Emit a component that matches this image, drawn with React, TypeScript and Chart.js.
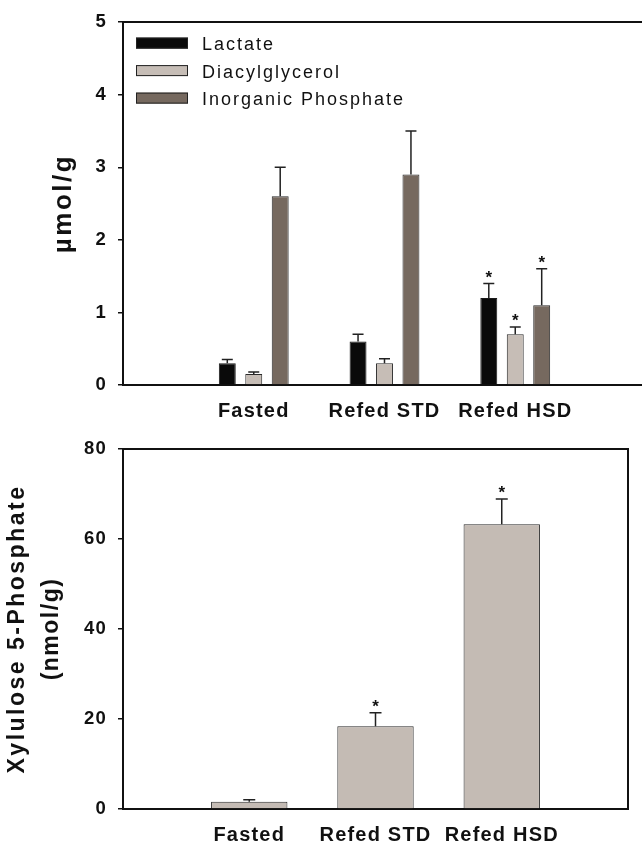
import React, { useEffect, useRef } from 'react';
import { Chart, registerables } from 'chart.js';

Chart.register(...registerables);

// ---------- data ----------
const categories = ['', 'Fasted', 'Refed STD', 'Refed HSD', ''];
const seriesNames = ['Lactate', 'Diacylglycerol', 'Inorganic Phosphate'];

const lactate = [null, 0.3, 0.6, 1.2, null];
const lactateErr = [null, 0.05, 0.1, 0.2, null];
const lactateSig = [false, false, false, true, false];

const diacylglycerol = [null, 0.15, 0.3, 0.7, null];
const diacylglycerolErr = [null, 0.03, 0.06, 0.1, null];
const diacylglycerolSig = [false, false, false, true, false];

const phosphate = [null, 2.6, 2.9, 1.1, null];
const phosphateErr = [null, 0.4, 0.6, 0.5, null];
const phosphateSig = [false, false, false, true, false];

const topTicks = [0, 1, 2, 3, 4, 5];
const topYLabel = 'µmol/g';

const xylulose = [null, 1.6, 18.4, 63.3, null];
const xyluloseErr = [null, 0.45, 3.0, 5.6, null];
const xyluloseSig = [false, false, true, true, false];
const bottomTicks = [0, 20, 40, 60, 80];
const bottomYLabel = ['Xylulose 5-Phosphate', '(nmol/g)'];

// ---------- styles ----------
const FAMILY = '"Liberation Sans", Arial, Helvetica, sans-serif';
const seriesColors = ['#0a0a0a', '#c6bdb6', '#76695f'];
const xyluloseColor = '#c4bbb4';
const INK = '#111111';

// ---------- plugins ----------
const spacingPlugin = (spacing: string) => ({
  id: 'letterSpacing',
  beforeDraw(chart: any) {
    (chart.ctx as any).letterSpacing = spacing;
  },
});

const errorBarPlugin = (capHalf: number) => ({
  id: 'errorBars',
  afterDatasetsDraw(chart: any) {
    const ctx = chart.ctx;
    const yScale = chart.scales.y;
    chart.data.datasets.forEach((ds: any, di: number) => {
      const meta = chart.getDatasetMeta(di);
      meta.data.forEach((bar: any, i: number) => {
        const v = ds.data[i];
        const e = ds.errors ? ds.errors[i] : null;
        if (v == null || e == null) return;
        const top = yScale.getPixelForValue(v + e);
        const x = bar.x;
        ctx.save();
        ctx.strokeStyle = '#222';
        ctx.lineWidth = 1.5;
        ctx.beginPath();
        ctx.moveTo(x, bar.y);
        ctx.lineTo(x, top);
        ctx.moveTo(x - capHalf, top);
        ctx.lineTo(x + capHalf, top);
        ctx.stroke();
        if (ds.sig && ds.sig[i]) {
          ctx.letterSpacing = '0px';
          ctx.font = `bold 17px ${FAMILY}`;
          ctx.textAlign = 'center';
          ctx.textBaseline = 'alphabetic';
          ctx.fillStyle = INK;
          ctx.fillText('*', x, top - 0.5);
        }
        ctx.restore();
      });
    });
  },
});

const framePlugin = (drawRight: boolean) => ({
  id: 'frame',
  afterDraw(chart: any) {
    const { ctx, chartArea } = chart;
    ctx.save();
    ctx.strokeStyle = INK;
    ctx.lineWidth = 2;
    ctx.beginPath();
    ctx.moveTo(chartArea.left - 1, chartArea.top);
    ctx.lineTo(chartArea.right, chartArea.top);
    if (drawRight) {
      ctx.moveTo(chartArea.right, chartArea.top - 1);
      ctx.lineTo(chartArea.right, chartArea.bottom + 1);
    }
    ctx.stroke();
    ctx.restore();
  },
});

type TitleLine = { text: string; x: number; size: number; ls: string };
const yTitlePlugin = (lines: TitleLine[]) => ({
  id: 'yTitle',
  afterDraw(chart: any) {
    const { ctx, chartArea } = chart;
    const cy = (chartArea.top + chartArea.bottom) / 2;
    lines.forEach((l) => {
      ctx.save();
      ctx.translate(l.x, cy);
      ctx.rotate(-Math.PI / 2);
      ctx.font = `bold ${l.size}px ${FAMILY}`;
      ctx.letterSpacing = l.ls;
      ctx.textAlign = 'center';
      ctx.textBaseline = 'middle';
      ctx.fillStyle = INK;
      ctx.fillText(l.text, 0, 0);
      ctx.restore();
    });
  },
});

const boxLegendPlugin = {
  id: 'boxLegend',
  afterDraw(chart: any) {
    const { ctx, chartArea } = chart;
    chart.data.datasets.forEach((ds: any, i: number) => {
      const cy = chartArea.top + 21 + i * 27.5;
      const bx = chartArea.left + 13;
      ctx.save();
      ctx.fillStyle = ds.backgroundColor;
      ctx.fillRect(bx, cy - 5.5, 52, 11);
      ctx.strokeStyle = '#222';
      ctx.lineWidth = 1;
      ctx.strokeRect(bx + 0.5, cy - 5, 51, 10);
      ctx.font = `18px ${FAMILY}`;
      ctx.letterSpacing = '2px';
      ctx.fillStyle = INK;
      ctx.textAlign = 'left';
      ctx.textBaseline = 'alphabetic';
      ctx.fillText(ds.label, bx + 66, cy + 7);
      ctx.restore();
    });
  },
};

// ---------- shared axis options ----------
const xAxis = (height: number) => ({
  offset: false,
  grid: { display: false, drawTicks: false },
  border: { display: true, color: INK, width: 2 },
  ticks: {
    autoSkip: false,
    maxRotation: 0,
    minRotation: 0,
    padding: 14,
    color: INK,
    font: { family: FAMILY, size: 20, weight: 'bold' },
  },
  afterFit: (s: any) => {
    s.height = height;
  },
});

const yAxis = (min: number, max: number, tickValues: number[]) => ({
  min,
  max,
  afterBuildTicks: (s: any) => {
    s.ticks = tickValues.map((v) => ({ value: v }));
  },
  grid: {
    drawOnChartArea: false,
    drawTicks: true,
    tickLength: 5,
    color: INK,
    lineWidth: 1.5,
  },
  border: { display: true, color: INK, width: 2 },
  ticks: {
    padding: 11,
    color: INK,
    font: { family: FAMILY, size: 18.5, weight: 'bold' },
  },
  afterFit: (s: any) => {
    s.width = 123;
  },
});

export default function App() {
  const topRef = useRef<HTMLCanvasElement | null>(null);
  const bottomRef = useRef<HTMLCanvasElement | null>(null);

  useEffect(() => {
    if (!topRef.current || !bottomRef.current) return;

    const top = new Chart(topRef.current, {
      type: 'bar',
      data: {
        labels: categories,
        datasets: [
          {
            label: seriesNames[0],
            data: lactate,
            errors: lactateErr,
            sig: lactateSig,
            backgroundColor: seriesColors[0],
            borderColor: '#1a1a1a',
            borderWidth: 1,
          },
          {
            label: seriesNames[1],
            data: diacylglycerol,
            errors: diacylglycerolErr,
            sig: diacylglycerolSig,
            backgroundColor: seriesColors[1],
            borderColor: '#2a2a2a',
            borderWidth: 1,
          },
          {
            label: seriesNames[2],
            data: phosphate,
            errors: phosphateErr,
            sig: phosphateSig,
            backgroundColor: seriesColors[2],
            borderColor: '#2a2a2a',
            borderWidth: 1,
          },
        ] as any,
      },
      options: {
        responsive: false,
        animation: false,
        events: [],
        layout: { padding: { left: 0, top: 19, right: 13, bottom: 0 } },
        datasets: { bar: { categoryPercentage: 0.607, barPercentage: 0.64 } },
        scales: {
          x: xAxis(40) as any,
          y: yAxis(0, 5, topTicks) as any,
        },
        plugins: { legend: { display: false }, tooltip: { enabled: false } },
      },
      plugins: [
        spacingPlugin('1.2px'),
        errorBarPlugin(5.5),
        framePlugin(false),
        yTitlePlugin([{ text: topYLabel, x: 64, size: 26, ls: '2.5px' }]),
        boxLegendPlugin,
      ],
    } as any);

    const bottom = new Chart(bottomRef.current, {
      type: 'bar',
      data: {
        labels: categories,
        datasets: [
          {
            label: 'Xylulose 5-Phosphate',
            data: xylulose,
            errors: xyluloseErr,
            sig: xyluloseSig,
            backgroundColor: xyluloseColor,
            borderColor: '#2a2a2a',
            borderWidth: 1,
          },
        ] as any,
      },
      options: {
        responsive: false,
        animation: false,
        events: [],
        layout: { padding: { left: 0, top: 24, right: 3, bottom: 0 } },
        datasets: { bar: { categoryPercentage: 0.605, barPercentage: 1 } },
        scales: {
          x: xAxis(37) as any,
          y: yAxis(0, 80, bottomTicks) as any,
        },
        plugins: { legend: { display: false }, tooltip: { enabled: false } },
      },
      plugins: [
        spacingPlugin('1.2px'),
        errorBarPlugin(6),
        framePlugin(true),
        yTitlePlugin([
          { text: bottomYLabel[0], x: 18, size: 23, ls: '2.5px' },
          { text: bottomYLabel[1], x: 52, size: 23, ls: '1.5px' },
        ]),
      ],
    } as any);

    return () => {
      top.destroy();
      bottom.destroy();
    };
  }, []);

  return (
    <div
      style={{
        position: 'absolute',
        left: 0,
        top: 0,
        width: 642,
        height: 846,
        overflow: 'hidden',
        background: '#ffffff',
      }}
    >
      <canvas
        ref={topRef}
        width={660}
        height={425}
        style={{ position: 'absolute', left: 0, top: 0, width: 660, height: 425 }}
      />
      <canvas
        ref={bottomRef}
        width={642}
        height={421}
        style={{ position: 'absolute', left: 0, top: 425, width: 642, height: 421 }}
      />
    </div>
  );
}
